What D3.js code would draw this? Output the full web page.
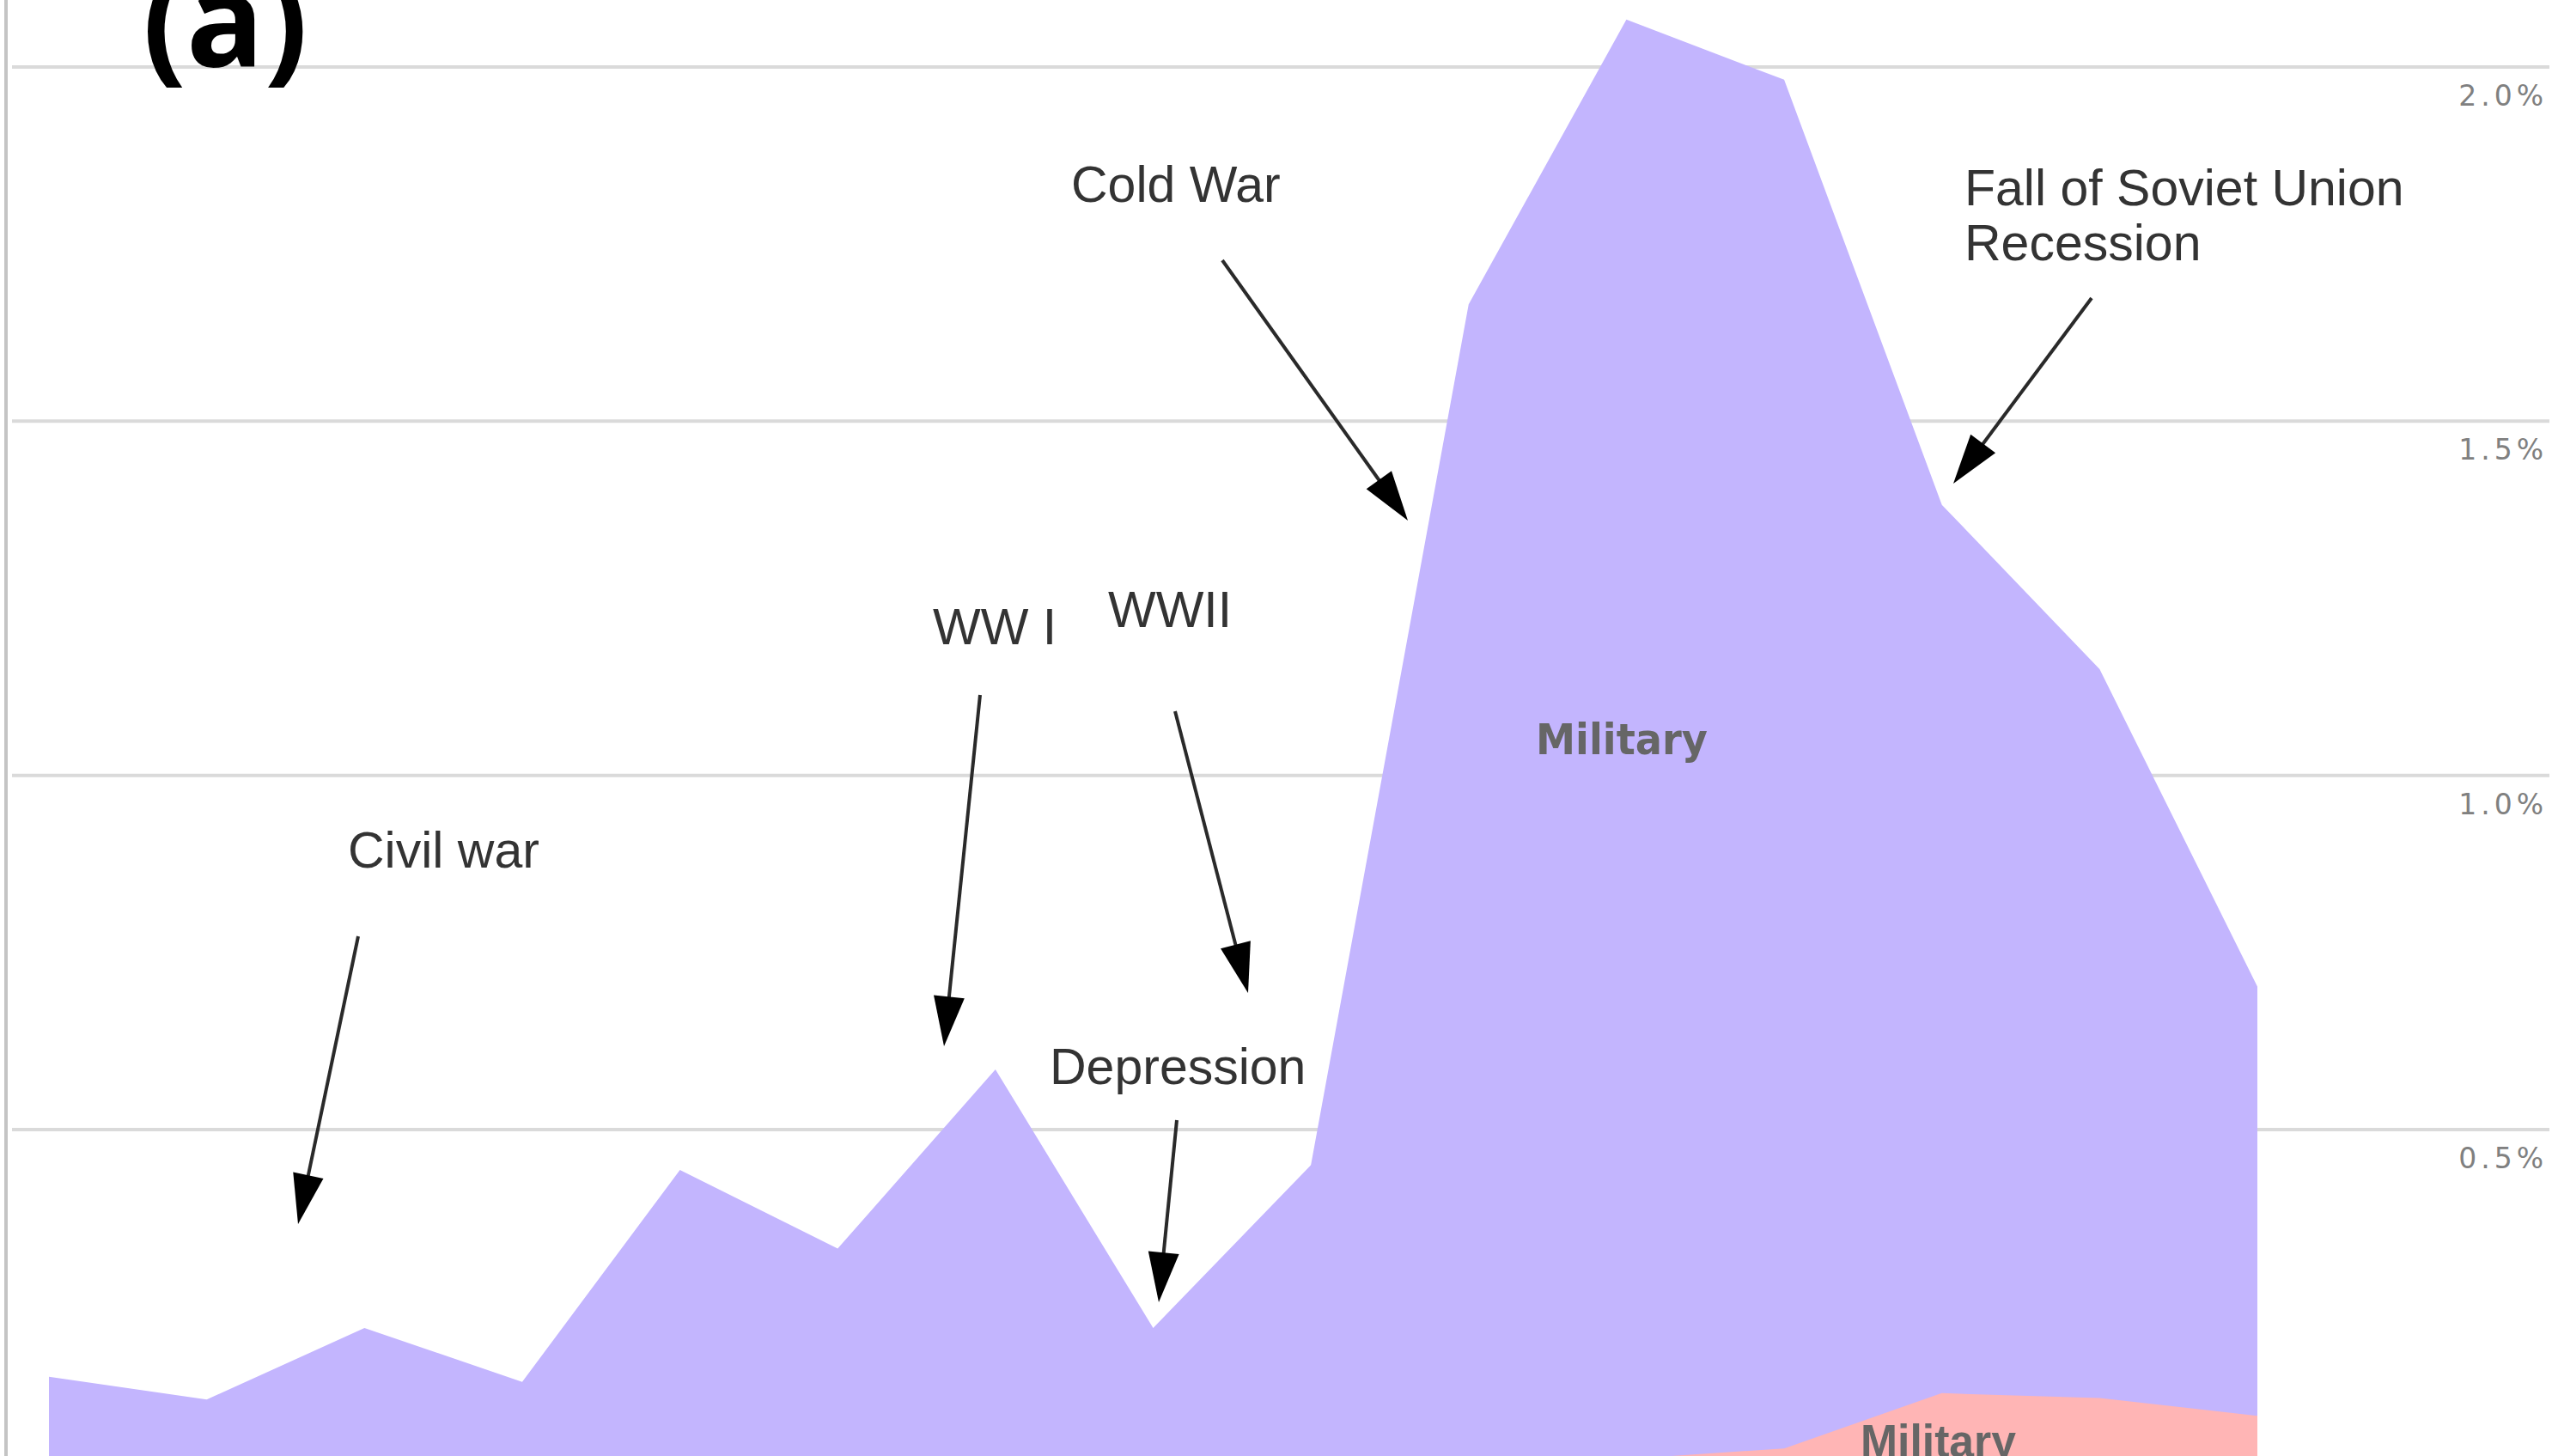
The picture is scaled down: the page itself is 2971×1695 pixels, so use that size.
<!DOCTYPE html>
<html>
<head>
<meta charset="utf-8">
<script src="https://cdn.jsdelivr.net/npm/d3@7"></script>
<style>
  html, body { margin: 0; padding: 0; background: #fff; overflow: hidden; }
</style>
</head>
<body>
<div id="chart"></div>
<script>
// data (percent of GDP)
const steps = [1, 2, 3, 4, 5, 6, 7, 8, 9, 10, 11, 12, 13, 14, 15];
const totalValues = [0.151, 0.119, 0.220, 0.144, 0.443, 0.332, 0.585, 0.220, 0.450, 1.665, 2.067, 1.982, 1.382, 1.150, 0.702];
const pinkValues = [0, 0, 0, 0, 0, 0, 0, 0, 0, 0.02, 0.035, 0.05, 0.128, 0.121, 0.096];
const tickValues = [0.5, 1.0, 1.5, 2.0];
const tickLabels = ["0.5%", "1.0%", "1.5%", "2.0%"];

const notes = [
    { lines: ["Civil war"], tx: 405, ty: 1010, from: [417, 1090], to: [347, 1425] },
    { lines: ["WW I"], tx: 1086, ty: 750, from: [1141, 809], to: [1099, 1218] },
    { lines: ["WWII"], tx: 1290, ty: 730, from: [1368, 828], to: [1453, 1156] },
    { lines: ["Depression"], tx: 1222, ty: 1262, from: [1370, 1304], to: [1349, 1516] },
    { lines: ["Cold War"], tx: 1247, ty: 235, from: [1423, 303], to: [1639, 606] },
    { lines: ["Fall of Soviet Union", "Recession"], tx: 2287, ty: 239, from: [2435, 347], to: [2274, 563] }
];

const width = 2971;
const height = 1695;

const svg = d3.select("#chart").append("svg")
    .attr("width", width).attr("height", height)
    .attr("viewBox", `0 0 ${width} ${height}`);

const xScale = d3.scalePoint().domain(steps).range([57, 2628]);
const yScale = d3.scaleLinear().domain([0, 2.0]).range([1727.4, 78]);

// left axis line
svg.append("line")
    .attr("x1", 7).attr("x2", 7).attr("y1", 0).attr("y2", height)
    .attr("stroke", "#c4c4c4").attr("stroke-width", 4);

// gridlines
svg.selectAll(".grid").data(tickValues).join("line")
    .attr("class", "grid")
    .attr("x1", 14).attr("x2", 2968)
    .attr("y1", d => yScale(d)).attr("y2", d => yScale(d))
    .attr("stroke", "#dadada").attr("stroke-width", 4);

// areas
const area = vals => d3.area()
    .x((d, i) => xScale(steps[i]))
    .y0(yScale(0))
    .y1(d => yScale(d))(vals);

svg.append("path").attr("d", area(totalValues)).attr("fill", "#c3b5fe");
svg.append("path").attr("d", area(pinkValues)).attr("fill", "#ffb5b5");

svg.selectAll(".tick-label").data(tickValues).join("text")
    .attr("class", "tick-label")
    .text((d, i) => tickLabels[i])
    .attr("x", 2966)
    .attr("y", d => yScale(d) + 45)
    .attr("text-anchor", "end")
    .style("font-family", "DejaVu Sans, sans-serif")
    .style("font-size", "33px")
    .style("letter-spacing", "5px")
    .style("fill", "#808080");

// series labels
svg.append("text")
    .text("Military")
    .attr("x", 1788).attr("y", 878)
    .attr("textLength", 200).attr("lengthAdjust", "spacingAndGlyphs")
    .style("font-family", "DejaVu Sans, sans-serif")
    .style("font-weight", "bold")
    .style("font-size", "50px")
    .style("fill", "#666");

svg.append("text")
    .text("Military")
    .attr("x", 2166).attr("y", 1696)
    .attr("textLength", 181).attr("lengthAdjust", "spacingAndGlyphs")
    .style("font-family", "Liberation Sans Narrow, Liberation Sans, sans-serif")
    .style("font-weight", "bold")
    .style("font-size", "54px")
    .style("fill", "#666");

// annotations
const noteG = svg.selectAll(".note").data(notes).join("g").attr("class", "note");

noteG.append("text")
    .attr("x", d => d.tx).attr("y", d => d.ty)
    .style("font-family", "Liberation Sans, Arial, sans-serif")
    .style("font-size", "59px")
    .style("fill", "#333")
    .selectAll("tspan").data(d => d.lines.map((l, i) => ({ l, i, x: d.tx }))).join("tspan")
    .attr("x", d => d.x)
    .attr("dy", d => d.i === 0 ? 0 : 64)
    .text(d => d.l);

const headLen = 58;
const headHalf = 18;
noteG.each(function(d) {
    const g = d3.select(this);
    const [x1, y1] = d.from;
    const [x2, y2] = d.to;
    const len = Math.hypot(x2 - x1, y2 - y1);
    const ux = (x2 - x1) / len, uy = (y2 - y1) / len;
    const bx = x2 - ux * headLen, by = y2 - uy * headLen;
    g.append("line")
        .attr("x1", x1).attr("y1", y1).attr("x2", bx + ux * 4).attr("y2", by + uy * 4)
        .attr("stroke", "#2a2a2a").attr("stroke-width", 4);
    g.append("polygon")
        .attr("points", [[x2, y2], [bx - uy * headHalf, by + ux * headHalf], [bx + uy * headHalf, by - ux * headHalf]].map(p => p.join(",")).join(" "))
        .attr("fill", "#000");
});

// panel letter
svg.append("text")
    .text("(a)")
    .attr("x", 166).attr("y", 78)
    .style("font-family", "Open Sans, sans-serif")
    .style("font-weight", "bold")
    .style("font-size", "150px")
    .style("fill", "#000");
</script>
</body>
</html>
